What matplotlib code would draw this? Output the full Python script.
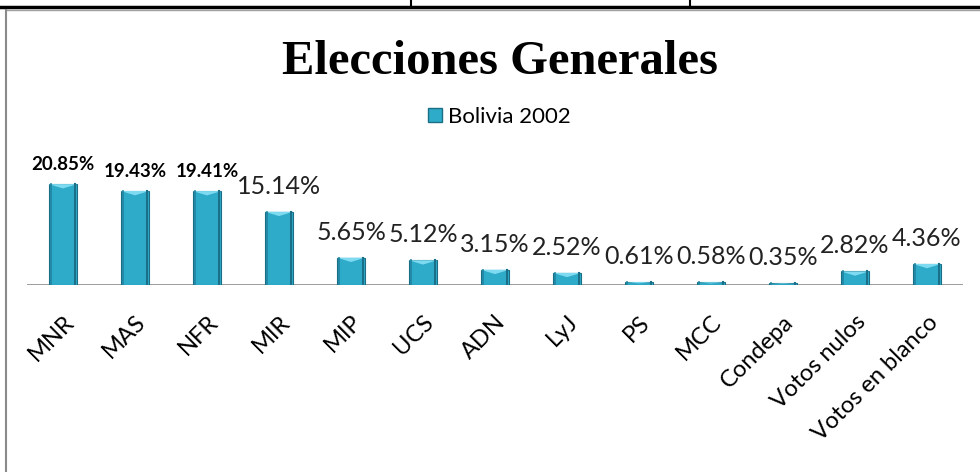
import numpy as np
import matplotlib.pyplot as plt
from matplotlib.patches import Polygon, Patch
from matplotlib.lines import Line2D

# datos de la eleccion
partidos = ['MNR', 'MAS', 'NFR', 'MIR', 'MIP', 'UCS', 'ADN', 'LyJ', 'PS', 'MCC',
            'Condepa', 'Votos nulos', 'Votos en blanco']
votos = [20.85, 19.43, 19.41, 15.14, 5.65, 5.12, 3.15, 2.52, 0.61, 0.58, 0.35, 2.82, 4.36]
etiquetas = ['20.85%', '19.43%', '19.41%', '15.14%', '5.65%', '5.12%', '3.15%', '2.52%',
             '0.61%', '0.58%', '0.35%', '2.82%', '4.36%']
negrita = [True, True, True, False, False, False, False, False, False, False, False, False, False]

fuente = ['Lato', 'DejaVu Sans']
fig = plt.figure(figsize=(9.8, 4.72), dpi=100)
ax = fig.add_axes([27/980, 187/472, 936/980, 121/472])

x = np.arange(len(partidos))
ancho = 0.4
ax.bar(x, votos, width=ancho, color='#2eabc9', edgecolor='#1a6f86', linewidth=0.8, zorder=2)
# bisel superior y bordes oscuros de cada barra
for xi, v in zip(x, votos):
    d = min(0.9, v*0.45)
    tri = Polygon([[xi-ancho/2, v], [xi+ancho/2, v], [xi, v-d]], closed=True,
                  facecolor='#7ddaf0', edgecolor='none', zorder=3)
    ax.add_patch(tri)
    ax.plot([xi-ancho/2+0.03, xi-ancho/2+0.03], [0, v], color='#1f84a0', lw=1.2, zorder=3)
    ax.plot([xi+ancho/2-0.03, xi+ancho/2-0.03], [0, v], color='#1a7089', lw=1.5, zorder=3)

for xi, v, t, b in zip(x, votos, etiquetas, negrita):
    if b:
        ax.annotate(t, (xi, v), xytext=(0, 8), textcoords='offset points', ha='center',
                    va='bottom', fontsize=13.5, fontweight='bold', family=fuente)
    else:
        ax.annotate(t, (xi, v), xytext=(0, 10), textcoords='offset points', ha='center',
                    va='bottom', fontsize=18, family=fuente, color='#222222')

ax.set_xlim(-0.5, len(partidos)-0.5)
ax.set_ylim(0, 25)
ax.axhline(0, color='#8c8c8c', lw=1.2, zorder=1)
for s in ax.spines.values():
    s.set_visible(False)
ax.set_yticks([])
ax.set_xticks(x)
ax.set_xticklabels(partidos, rotation=45, ha='right', rotation_mode='anchor',
                   fontsize=17, family=fuente)
ax.tick_params(axis='x', length=0, pad=19)

fig.text(0.51, 1-74/472, 'Elecciones Generales', ha='center', va='baseline',
         fontsize=35, fontweight='bold', family='Liberation Serif')
fig.legend(handles=[Patch(facecolor='#2eabc9', edgecolor='#1a6f86')], labels=['Bolivia 2002'],
           loc='center', bbox_to_anchor=(0.51, 0.752), frameon=False,
           handlelength=0.6, handleheight=0.6, handletextpad=0.3,
           prop={'family': fuente, 'size': 16})

# bordes de la tabla
fig.add_artist(Line2D([0, 1], [1-7/472, 1-7/472], color='black', lw=2.5))
fig.add_artist(Line2D([411/980, 411/980], [1, 1-7/472], color='black', lw=1.5))
fig.add_artist(Line2D([690/980, 690/980], [1, 1-7/472], color='black', lw=1.5))
fig.add_artist(Line2D([7/980, 1], [1-10/472, 1-10/472], color='#a0a0a0', lw=1))
fig.add_artist(Line2D([6/980, 6/980], [0, 1-10/472], color='#8a8a8a', lw=1.5))

fig.savefig('out.png', dpi=100)
